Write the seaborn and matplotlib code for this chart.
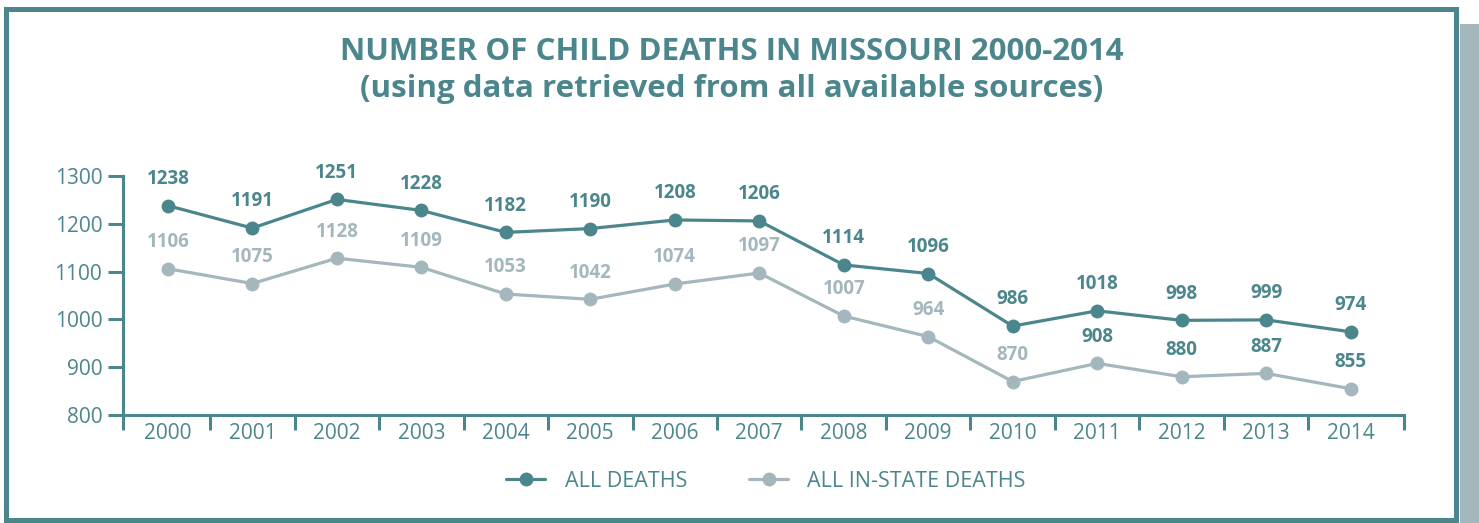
import pandas as pd
import numpy as np
import matplotlib
matplotlib.use("Agg")
import matplotlib.pyplot as plt
from matplotlib.patches import Rectangle
import seaborn as sns

# values
years = [2000, 2001, 2002, 2003, 2004, 2005, 2006, 2007, 2008, 2009, 2010, 2011, 2012, 2013, 2014]
all_deaths = [1238, 1191, 1251, 1228, 1182, 1190, 1208, 1206, 1114, 1096, 986, 1018, 998, 999, 974]
instate_deaths = [1106, 1075, 1128, 1109, 1053, 1042, 1074, 1097, 1007, 964, 870, 908, 880, 887, 855]
series_names = ["ALL DEATHS", "ALL IN-STATE DEATHS"]
y_ticks = [800, 900, 1000, 1100, 1200, 1300]
title = "NUMBER OF CHILD DEATHS IN MISSOURI 2000-2014\n(using data retrieved from all available sources)"

teal = "#4b868c"
grey = "#a3b7bc"

sns.set_theme(style="white")
plt.rcParams["font.family"] = ["Open Sans", "DejaVu Sans"]

df = pd.DataFrame({
    "year": years * 2,
    "deaths": all_deaths + instate_deaths,
    "series": [series_names[0]] * len(years) + [series_names[1]] * len(years),
})

fig = plt.figure(figsize=(14.79, 5.23), dpi=100)
ax = fig.add_axes([0.0832, 0.2065, 0.866, 0.457])

sns.lineplot(data=df, x="year", y="deaths", hue="series", palette=[teal, grey],
             marker="o", markersize=10, markeredgewidth=0, linewidth=2.3,
             ax=ax, legend=True)

# value labels
for yr, v in zip(years, all_deaths):
    ax.annotate(str(v), (yr, v), xytext=(0, 12), textcoords="offset points",
                ha="center", va="bottom", color=teal, fontsize=13.5, fontweight="bold")
for yr, v in zip(years, instate_deaths):
    c = teal if yr >= 2011 else grey
    ax.annotate(str(v), (yr, v), xytext=(0, 12), textcoords="offset points",
                ha="center", va="bottom", color=c, fontsize=13.5, fontweight="bold")

x0, x1 = years[0] - 0.53, years[-1] + 0.63
ax.set_xlim(x0, x1)
ax.set_ylim(y_ticks[0], y_ticks[-1])
ax.set_yticks(y_ticks)
ax.set_xticks(years)
ax.set_xticklabels([str(y) for y in years])
ax.set_xticks([x0] + [y + 0.5 for y in years[:-1]] + [x1], minor=True)
ax.set_xlabel("")
ax.set_ylabel("")

for side in ["top", "right"]:
    ax.spines[side].set_visible(False)
for side in ["left", "bottom"]:
    ax.spines[side].set_color(teal)
    ax.spines[side].set_linewidth(2.2)

ax.tick_params(axis="x", which="major", length=0, pad=6, labelsize=15, labelcolor=teal)
ax.tick_params(axis="x", which="minor", length=11, width=2.2, color=teal, direction="out", bottom=True)
ax.tick_params(axis="y", length=11, width=2.2, color=teal, direction="out", left=True,
               pad=4, labelsize=15, labelcolor=teal)
ax.patch.set_alpha(0)

# legend
handles, labels = ax.get_legend_handles_labels()
ax.legend_.remove()
leg = fig.legend(handles, labels, loc="center", bbox_to_anchor=(0.518, 0.08), ncol=2,
                 frameon=False, fontsize=15.5, handlelength=1.8, columnspacing=2.9,
                 handletextpad=0.9)
for t in leg.get_texts():
    t.set_color(teal)

fig.text(0.495, 0.865, title, ha="center", va="center", color=teal,
         fontsize=22.5, fontweight="bold", linespacing=1.3)

# frame and shadow
fig.patches.append(Rectangle((1460 / 1479, 0), 19 / 1479, 1 - 24 / 523,
                             transform=fig.transFigure, facecolor=grey, edgecolor="none", zorder=0))
fig.patches.append(Rectangle((6 / 1479, 3 / 523), 1450 / 1479, 1 - 12 / 523,
                             transform=fig.transFigure, facecolor="none", edgecolor=teal,
                             linewidth=3.6, zorder=1))

fig.savefig("out.png", dpi=100)
